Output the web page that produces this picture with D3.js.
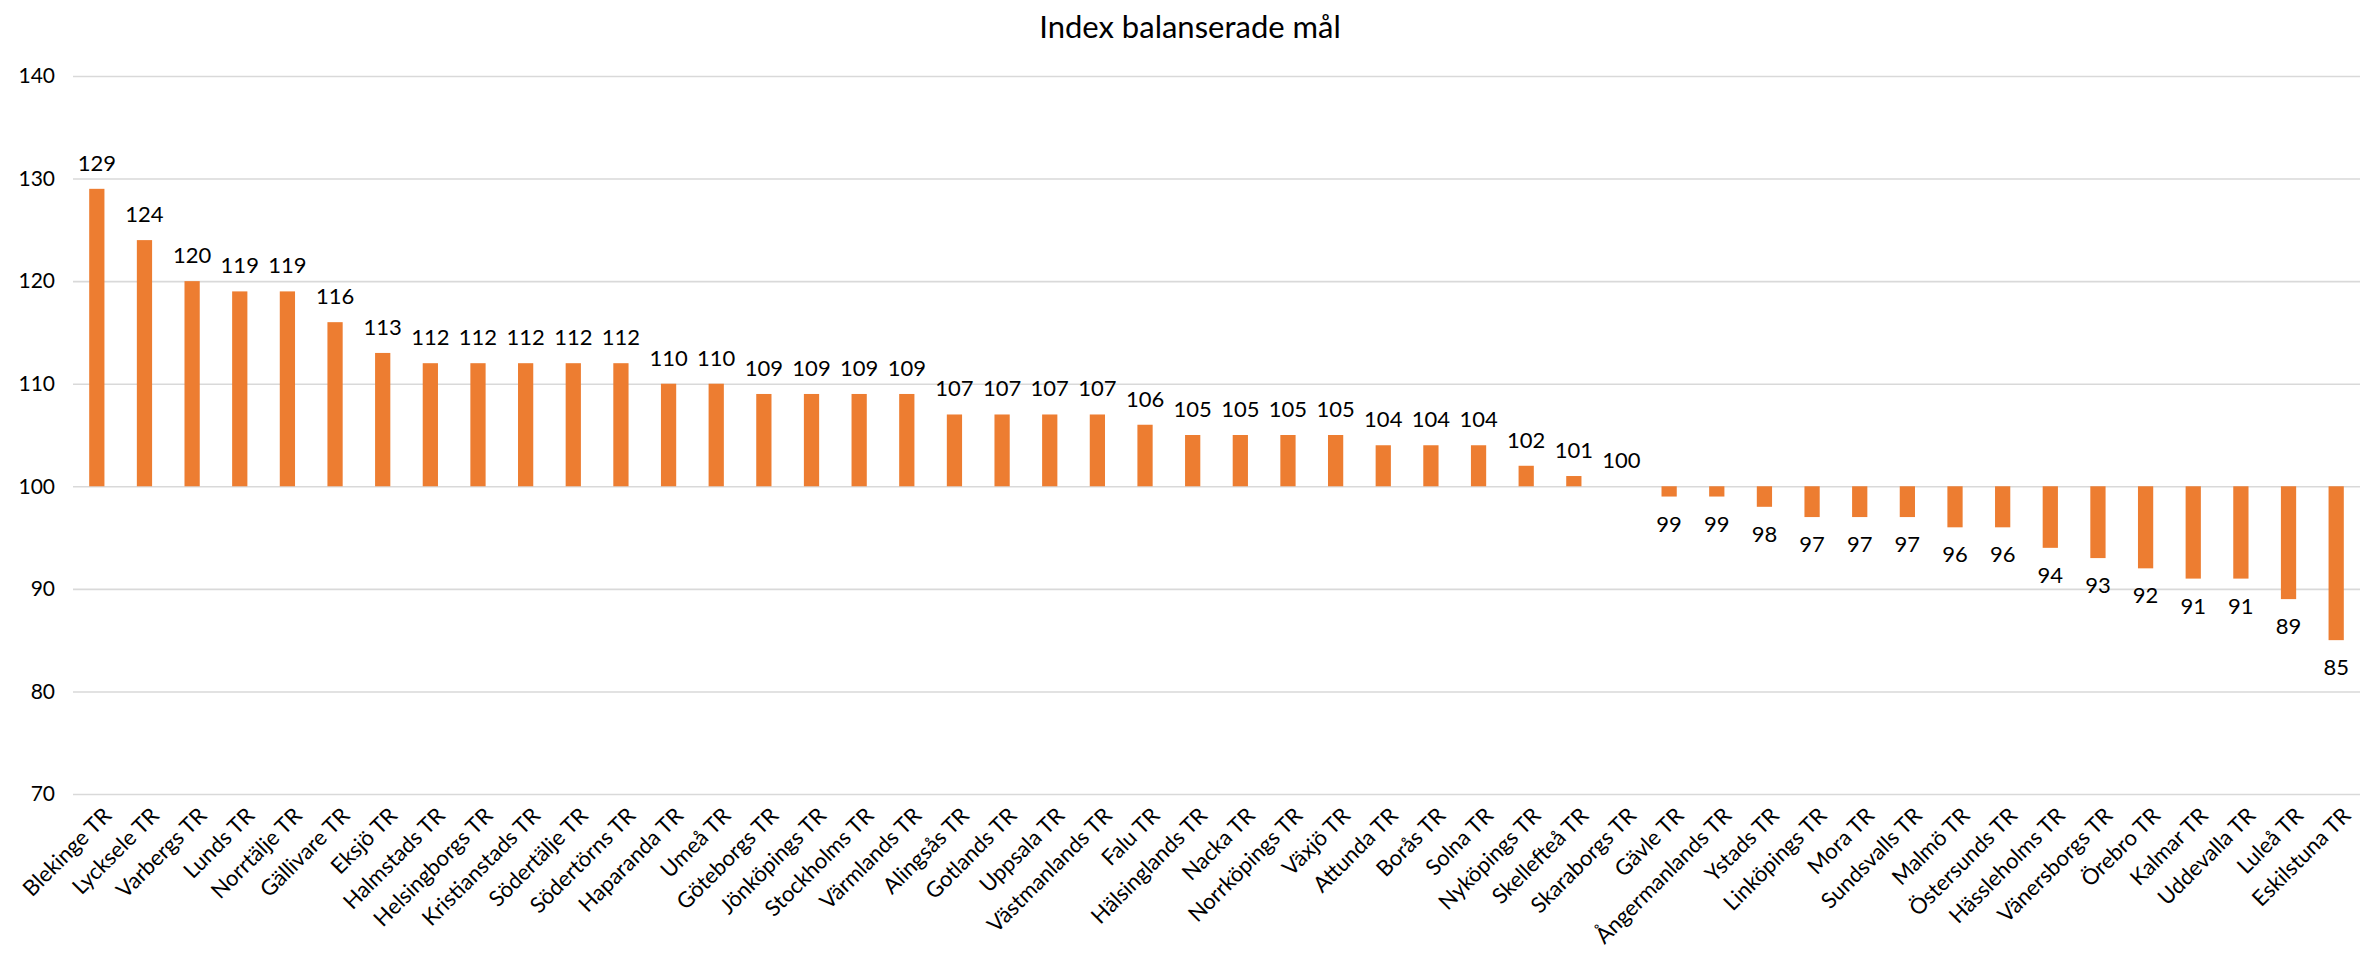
<!DOCTYPE html>
<html>
<head>
<meta charset="utf-8">
<script src="https://cdn.jsdelivr.net/npm/d3@7"></script>
<style>
  body { margin: 0; background: #fff; }
  text { font-family: Lato, "Open Sans", sans-serif; fill: #000; }
</style>
</head>
<body>
<svg id="chart"></svg>
<script>
// chart data
var courts = ['Blekinge TR','Lycksele TR','Varbergs TR','Lunds TR','Norrtälje TR','Gällivare TR','Eksjö TR',
  'Halmstads TR','Helsingborgs TR','Kristianstads TR','Södertälje TR','Södertörns TR','Haparanda TR','Umeå TR',
  'Göteborgs TR','Jönköpings TR','Stockholms TR','Värmlands TR','Alingsås TR','Gotlands TR','Uppsala TR',
  'Västmanlands TR','Falu TR','Hälsinglands TR','Nacka TR','Norrköpings TR','Växjö TR','Attunda TR','Borås TR',
  'Solna TR','Nyköpings TR','Skellefteå TR','Skaraborgs TR','Gävle TR','Ångermanlands TR','Ystads TR',
  'Linköpings TR','Mora TR','Sundsvalls TR','Malmö TR','Östersunds TR','Hässleholms TR','Vänersborgs TR',
  'Örebro TR','Kalmar TR','Uddevalla TR','Luleå TR','Eskilstuna TR']
var indexValues = [129,124,120,119,119,116,113,112,112,112,112,112,110,110,109,109,109,109,107,107,107,107,
  106,105,105,105,105,104,104,104,102,101,100,99,99,98,97,97,97,96,96,94,93,92,91,91,89,85]
var yTicks = [70,80,90,100,110,120,130,140]
var baseValue = 100
var chartTitle = 'Index balanserade mål'

var width = 2379
var height = 954
var margin = { top: 76, right: 19, bottom: 160, left: 73 }
var barColor = '#ED7D31'

var svg = d3.select('#chart')
  .attr('width', width)
  .attr('height', height)

var x = d3.scaleBand()
  .domain(courts)
  .range([margin.left, width - margin.right])
  .paddingInner(0.68)
  .paddingOuter(0.34)

var y = d3.scaleLinear()
  .domain([70, 140])
  .range([height - margin.bottom, margin.top])

// title
svg.append('text')
  .attr('x', 1190)
  .attr('y', 38)
  .attr('text-anchor', 'middle')
  .style('font-size', '31px')
  .text(chartTitle)

// gridlines + y labels
var yAxis = svg.append('g')
  .attr('transform', 'translate(' + margin.left + ',0)')
  .call(d3.axisLeft(y)
    .tickValues(yTicks)
    .tickSize(-(width - margin.left - margin.right))
    .tickPadding(18))
yAxis.select('.domain').remove()
yAxis.selectAll('line').attr('stroke', '#d9d9d9').attr('stroke-width', 1.6)
yAxis.selectAll('text').style('font-size', '21px').style('font-family', 'Lato, sans-serif')

// bars from base 100
svg.append('g')
  .selectAll('rect')
  .data(indexValues)
  .enter()
  .append('rect')
  .attr('x', (d, i) => x(courts[i]))
  .attr('width', x.bandwidth())
  .attr('y', d => y(Math.max(d, baseValue)))
  .attr('height', d => Math.abs(y(d) - y(baseValue)))
  .attr('fill', barColor)

// value labels
svg.append('g')
  .selectAll('text')
  .data(indexValues)
  .enter()
  .append('text')
  .attr('x', (d, i) => x(courts[i]) + x.bandwidth() / 2)
  .attr('y', d => d >= baseValue ? y(d) - 18 : y(d) + 35)
  .attr('text-anchor', 'middle')
  .style('font-size', '22px')
  .text(d => d)

// category labels, rotated
svg.append('g')
  .selectAll('text')
  .data(courts)
  .enter()
  .append('text')
  .attr('transform', d => 'translate(' + (x(d) + x.bandwidth() / 2 + 5) + ',' + (y(70) + 12) + ') rotate(-45)')
  .attr('text-anchor', 'end')
  .attr('dy', '0.7em')
  .style('font-size', '22px')
  .text(d => d)
</script>
</body>
</html>
